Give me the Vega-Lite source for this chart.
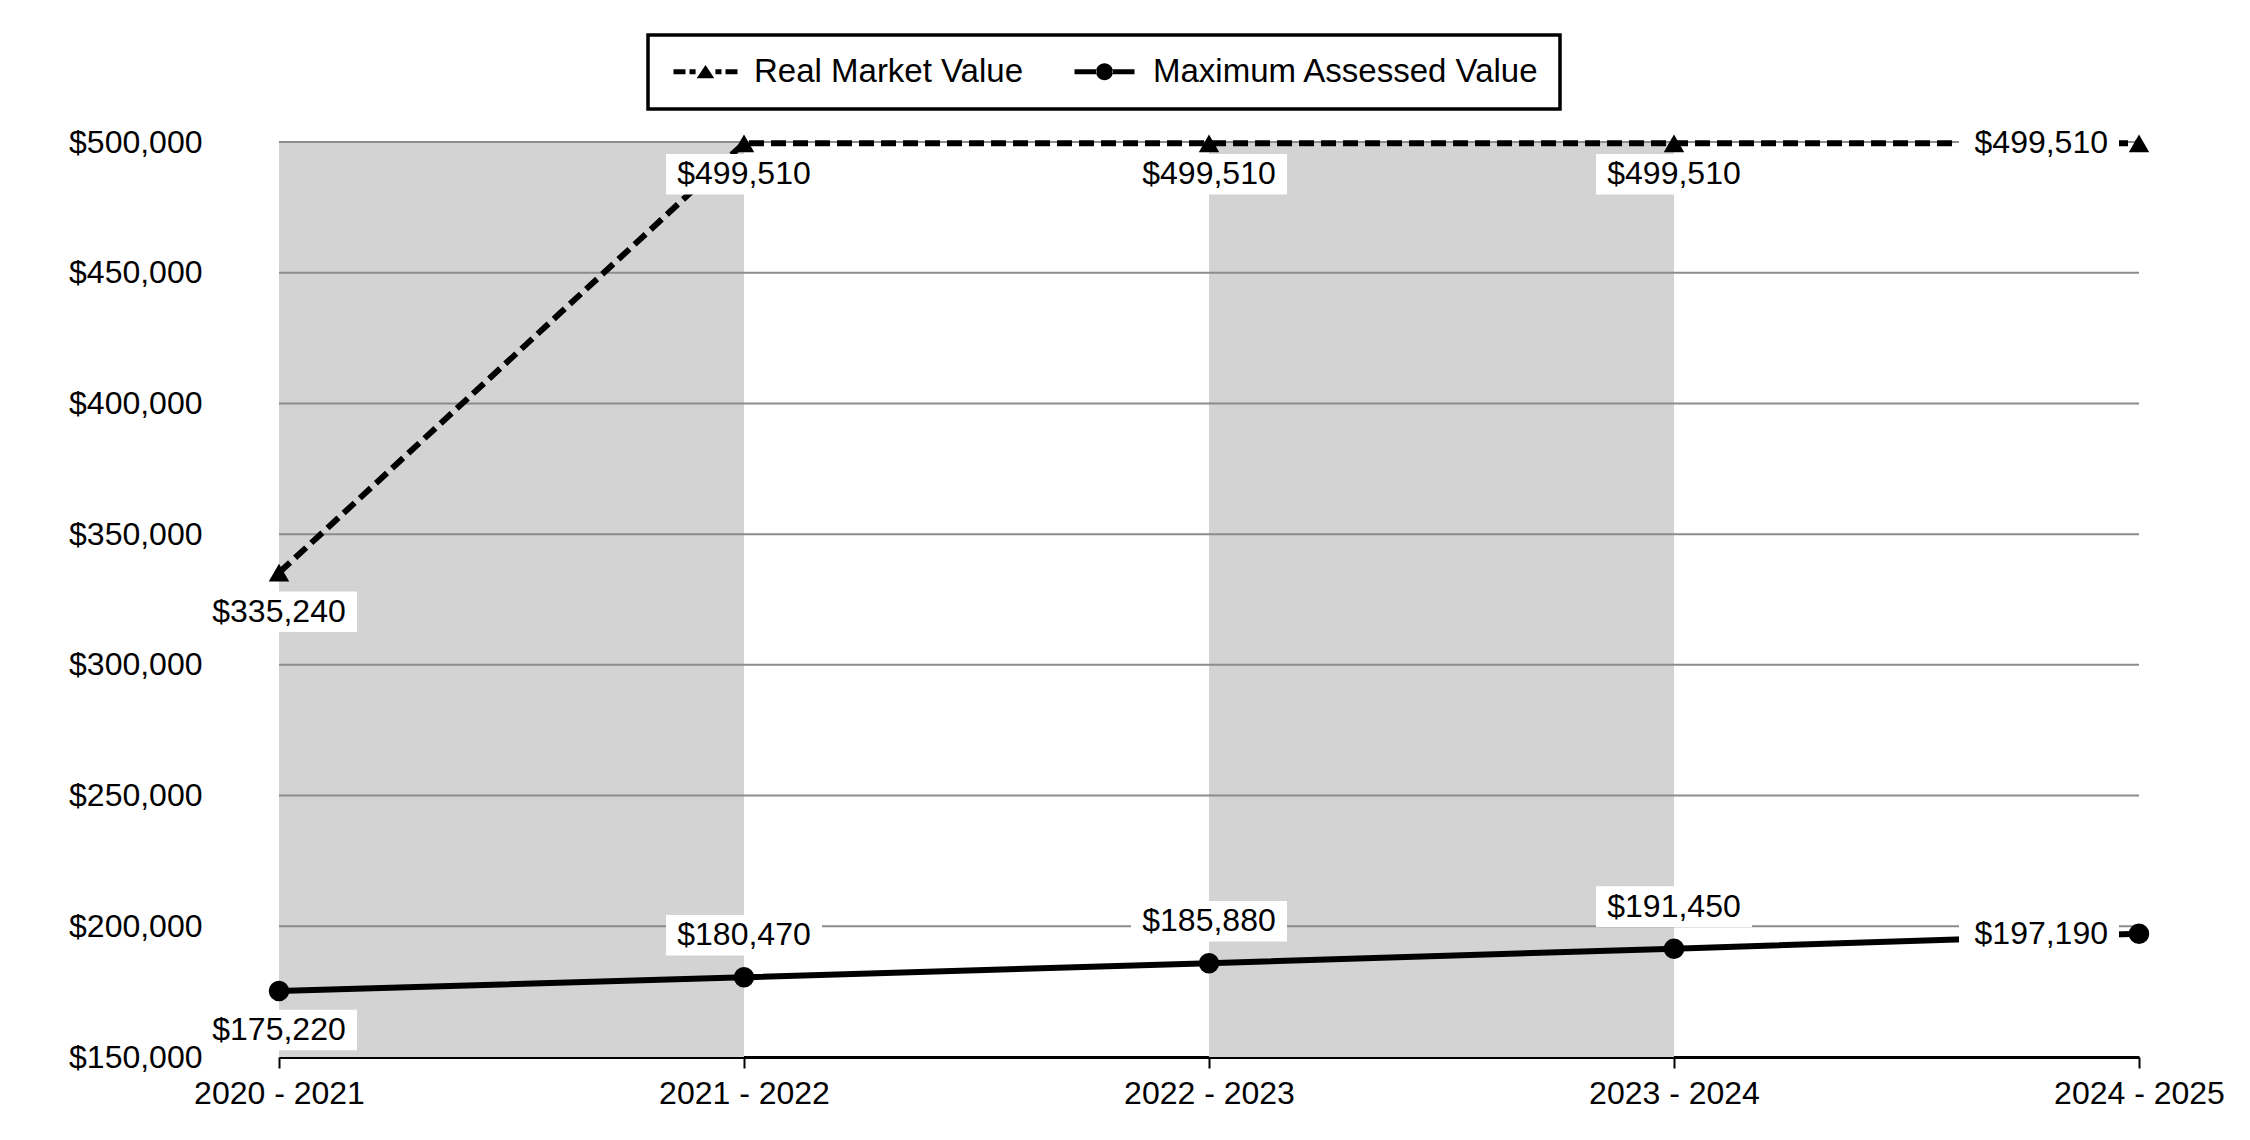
{
  "$schema": "https://vega.github.io/schema/vega-lite/v6.json",
  "width": 1860,
  "height": 915,
  "autosize": "none",
  "padding": {"left": 279, "top": 142, "right": 111, "bottom": 83},
  "background": "white",
  "config": {
    "font": "Liberation Sans",
    "view": {"stroke": null},
    "legend": {"strokeWidth": 3.5},
    "axisX": {"domainColor": "black", "domainWidth": 3, "tickColor": "black", "tickWidth": 2, "tickSize": 11, "labelFontSize": 32, "labelColor": "black", "labelPadding": 10, "labelAngle": 0, "grid": false, "zindex": 1, "labelFont": "Liberation Sans"},
    "axisY": {"domain": false, "ticks": false, "grid": false, "labelFontSize": 32, "labelColor": "black", "labelPadding": 77, "labelFont": "Liberation Sans"}
  },
  "data": {
    "values": [
      {"year": "2020 - 2021", "series": "Real Market Value", "value": 335240},
      {"year": "2021 - 2022", "series": "Real Market Value", "value": 499510},
      {"year": "2022 - 2023", "series": "Real Market Value", "value": 499510},
      {"year": "2023 - 2024", "series": "Real Market Value", "value": 499510},
      {"year": "2024 - 2025", "series": "Real Market Value", "value": 499510},
      {"year": "2020 - 2021", "series": "Maximum Assessed Value", "value": 175220},
      {"year": "2021 - 2022", "series": "Maximum Assessed Value", "value": 180470},
      {"year": "2022 - 2023", "series": "Maximum Assessed Value", "value": 185880},
      {"year": "2023 - 2024", "series": "Maximum Assessed Value", "value": 191450},
      {"year": "2024 - 2025", "series": "Maximum Assessed Value", "value": 197190}
    ]
  },
  "encoding": {
    "x": {"field": "year", "type": "ordinal", "scale": {"type": "point", "padding": 0, "domain": ["2020 - 2021", "2021 - 2022", "2022 - 2023", "2023 - 2024", "2024 - 2025"]}, "title": null},
    "y": {"field": "value", "type": "quantitative", "scale": {"domain": [150000, 500000], "nice": false, "zero": false}, "axis": {"values": [150000, 200000, 250000, 300000, 350000, 400000, 450000, 500000], "format": "$,.0f"}, "title": null}
  },
  "layer": [
    {
      "data": {"values": [{"start": "2020 - 2021", "end": "2021 - 2022"}, {"start": "2022 - 2023", "end": "2023 - 2024"}]},
      "mark": {"type": "rect", "color": "#d3d3d3"},
      "encoding": {
        "x": {"field": "start", "type": "ordinal", "scale": {"type": "point", "padding": 0, "domain": ["2020 - 2021", "2021 - 2022", "2022 - 2023", "2023 - 2024", "2024 - 2025"]}, "title": null},
        "x2": {"field": "end"},
        "y": null
      }
    },
    {
      "data": {"values": [{"g": 200000}, {"g": 250000}, {"g": 300000}, {"g": 350000}, {"g": 400000}, {"g": 450000}, {"g": 500000}]},
      "mark": {"type": "rule", "color": "#8c8c8c", "strokeWidth": 2},
      "encoding": {
        "x": null,
        "y": {"field": "g", "type": "quantitative", "scale": {"domain": [150000, 500000], "nice": false, "zero": false}, "axis": {"values": [150000, 200000, 250000, 300000, 350000, 400000, 450000, 500000], "format": "$,.0f"}, "title": null}
      }
    },
    {
      "transform": [{"filter": "datum.series === 'Real Market Value'"}],
      "mark": {"type": "line", "color": "black", "strokeWidth": 6, "strokeDash": [15, 7]}
    },
    {
      "transform": [{"filter": "datum.series === 'Maximum Assessed Value'"}],
      "mark": {"type": "line", "color": "black", "strokeWidth": 6}
    },
    {
      "transform": [{"filter": "datum.series === 'Real Market Value'"}],
      "mark": {"type": "point", "shape": "triangle-up", "filled": true, "color": "black", "size": 420, "opacity": 1, "strokeWidth": 0}
    },
    {
      "transform": [{"filter": "datum.series === 'Maximum Assessed Value'"}],
      "mark": {"type": "point", "shape": "circle", "filled": true, "color": "black", "size": 420, "opacity": 1, "strokeWidth": 0}
    },
    {
      "transform": [{"filter": "datum.year === '2020 - 2021'"}],
      "layer": [
        {"mark": {"type": "point", "shape": "M-1,-0.26H1V0.26H-1Z", "filled": true, "color": "white", "opacity": 1, "strokeWidth": 0, "size": 24336, "yOffset": 39}},
        {"mark": {"type": "text", "fontSize": 32, "font": "Liberation Sans", "color": "black", "baseline": "middle", "align": "center", "dy": 39},
         "encoding": {"text": {"field": "value", "type": "quantitative", "format": "$,.0f"}}}
      ]
    },
    {
      "transform": [{"filter": "datum.series === 'Real Market Value' && datum.year !== '2020 - 2021' && datum.year !== '2024 - 2025'"}],
      "layer": [
        {"mark": {"type": "point", "shape": "M-1,-0.26H1V0.26H-1Z", "filled": true, "color": "white", "opacity": 1, "strokeWidth": 0, "size": 24336, "yOffset": 31}},
        {"mark": {"type": "text", "fontSize": 32, "font": "Liberation Sans", "color": "black", "baseline": "middle", "align": "center", "dy": 31},
         "encoding": {"text": {"field": "value", "type": "quantitative", "format": "$,.0f"}}}
      ]
    },
    {
      "transform": [{"filter": "datum.series === 'Maximum Assessed Value' && datum.year !== '2020 - 2021' && datum.year !== '2024 - 2025'"}],
      "layer": [
        {"mark": {"type": "point", "shape": "M-1,-0.26H1V0.26H-1Z", "filled": true, "color": "white", "opacity": 1, "strokeWidth": 0, "size": 24336, "yOffset": -42}},
        {"mark": {"type": "text", "fontSize": 32, "font": "Liberation Sans", "color": "black", "baseline": "middle", "align": "center", "dy": -42},
         "encoding": {"text": {"field": "value", "type": "quantitative", "format": "$,.0f"}}}
      ]
    },
    {
      "transform": [{"filter": "datum.year === '2024 - 2025'"}],
      "layer": [
        {"mark": {"type": "point", "shape": "M-1,-0.25H1V0.25H-1Z", "filled": true, "color": "white", "opacity": 1, "strokeWidth": 0, "size": 25600, "xOffset": -100}},
        {"mark": {"type": "text", "fontSize": 32, "font": "Liberation Sans", "color": "black", "baseline": "middle", "align": "right", "dx": -31},
         "encoding": {"text": {"field": "value", "type": "quantitative", "format": "$,.0f"}}}
      ]
    },
    {
      "mark": {"type": "point", "filled": true, "color": "black", "opacity": 0, "strokeWidth": 0, "size": 1024},
      "encoding": {
        "shape": {
          "field": "series", "type": "nominal",
          "scale": {"domain": ["Real Market Value", "Maximum Assessed Value"], "range": ["M-2,-0.15H-1.25V0.15H-2Z M-1,-0.15H-0.62V0.15H-1Z M-0.55,0.4L0,-0.42L0.55,0.4Z M0.62,-0.15H1V0.15H0.62Z M1.25,-0.15H2V0.15H1.25Z", "M-1.875,-0.15H-0.5V0.15H-1.875Z M0.5,-0.15H1.875V0.15H0.5Z M-0.53,0A0.53,0.53 0 1,0 0.53,0A0.53,0.53 0 1,0 -0.53,0Z"]},
          "legend": {
            "title": null, "orient": "none", "legendX": 369, "legendY": -107, "direction": "horizontal",
            "padding": 20, "strokeColor": "black", "fillColor": "white",
            "labelFontSize": 33, "labelFont": "Liberation Sans", "labelColor": "black", "labelLimit": 1000,
            "labelExpr": "datum.label === 'Maximum Assessed Value' ? datum.label + '\u00a0\u00a0\u00a0\u00a0' : datum.label",
            "labelOffset": 32, "symbolOffset": 21, "columnPadding": 43, "symbolSize": 1024, "symbolStrokeWidth": 0,
            "symbolOpacity": 1, "symbolFillColor": "black",
            "encode": {"legend": {"strokeWidth": {"value": 3.5}}}
          }
        }
      }
    }
  ]
}
